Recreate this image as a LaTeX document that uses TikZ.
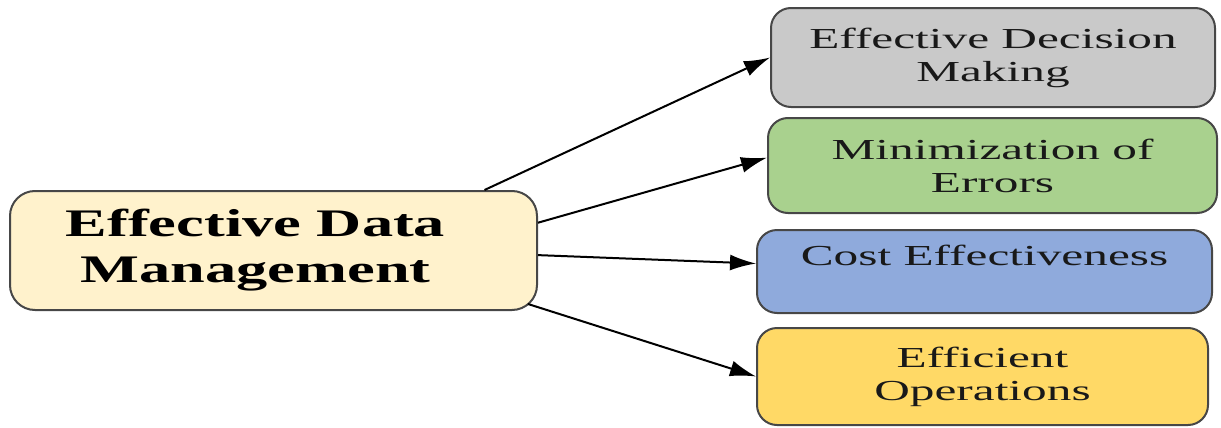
\documentclass[tikz,border=0pt]{standalone}
\usepackage{fontspec}
\usepackage{tikz}
\usepackage{xcolor}
\usetikzlibrary{arrows.meta}
\newfontfamily\hubfont{Liberation Serif}[FakeStretch=1.6]
\newfontfamily\leaffont{Liberation Serif}[FakeStretch=1.7]
\definecolor{hubcolor}{HTML}{FFF2CC}
\definecolor{decisioncolor}{HTML}{C9C9C9}
\definecolor{errorcolor}{HTML}{A9D18E}
\definecolor{costcolor}{HTML}{8FAADC}
\definecolor{opscolor}{HTML}{FFD966}
\colorlet{edgecolor}{black!72}
\tikzstyle{hubbox} = [
    draw=edgecolor,
    fill=hubcolor,
    line width=1pt,
    rounded corners=12.5pt,
    align=center,
    inner sep=0pt,
    font=\hubfont\bfseries\fontsize{19.5pt}{23pt}\selectfont
    ]
\tikzstyle{leafbox} = [
    draw=edgecolor,
    line width=1pt,
    rounded corners=10pt,
    align=center,
    inner sep=0pt,
    text=black!90,
    font=\leaffont\fontsize{14.5pt}{16.5pt}\selectfont
    ]
\tikzstyle{link} = [
    line width=1pt,
    -{Latex[length=13pt,width=8pt]}
    ]

\begin{document}
\begin{tikzpicture}[x=0.5pt,y=-0.5pt]
\useasboundingbox (0,0) rectangle (1221,428);

% centre box (text sits a little left of centre)
\node [hubbox, minimum width=263.5pt, minimum height=59.5pt] (hub) at (273.5,250.5)
    {Effective Data\hspace*{18pt}\\Management\hspace*{18pt}};

% the four outcomes
\node [leafbox, fill=decisioncolor, minimum width=222pt, minimum height=49.5pt] (decision) at (993,57.5)
    {Effective Decision\\Making};
\node [leafbox, fill=errorcolor, minimum width=224.5pt, minimum height=47.5pt] (errors) at (992.5,165.5)
    {Minimization of\\Errors};
\node [leafbox, fill=costcolor, minimum width=227.5pt, minimum height=41.5pt] (cost) at (984.5,271.5)
    {Cost Effectiveness\\\mbox{}};
\node [leafbox, fill=opscolor, minimum width=225.5pt, minimum height=48.5pt] (ops) at (982.5,376.5)
    {Efficient\\Operations};

\draw [link] (hub.16) -- (decision.west);
\draw [link] (hub.6.6) -- (errors.178);
\draw [link] (hub.-1.2) -- (cost.178);
\draw [link] ([shift={(-10,-7)}]hub.south east) -- (ops.west);
\end{tikzpicture}
\end{document}
